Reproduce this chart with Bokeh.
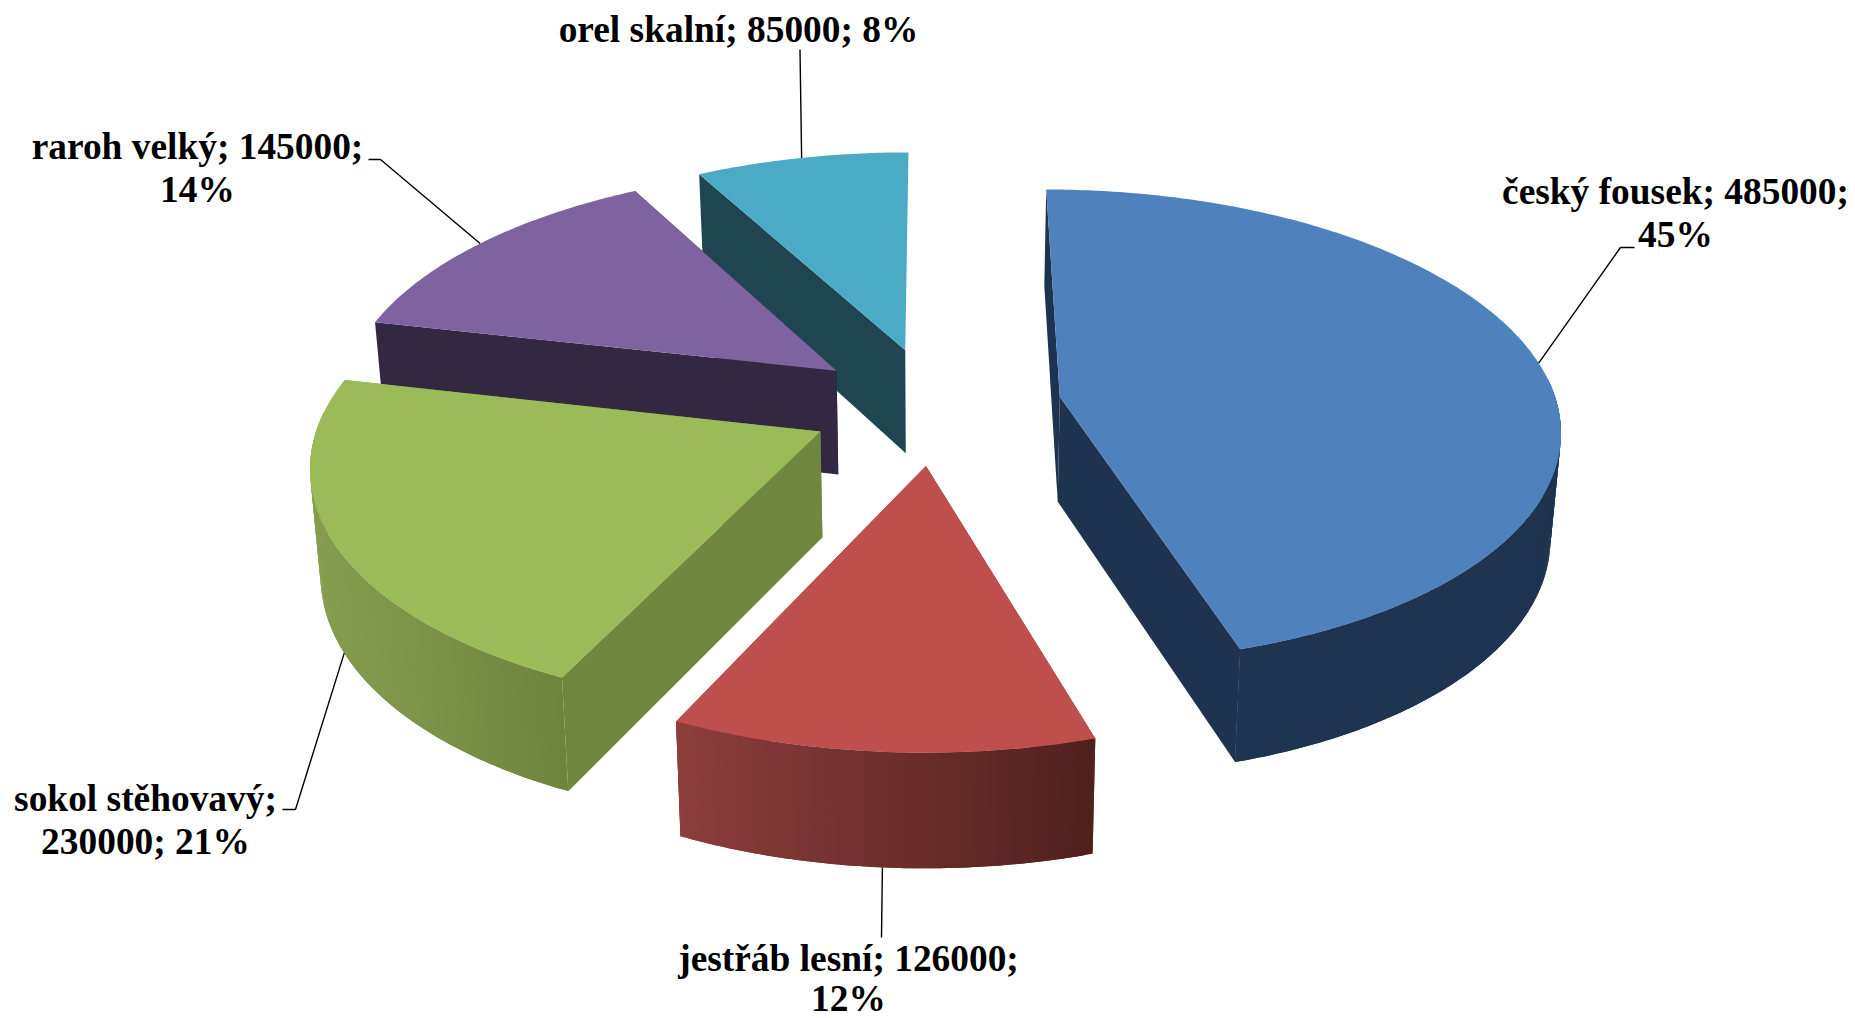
import math
from bokeh.plotting import figure
from bokeh.models import Range1d, ColumnDataSource
from bokeh.embed import file_html
from bokeh.resources import INLINE

categories = ["český fousek", "jestřáb lesní", "sokol stěhovavý", "raroh velký", "orel skalní"]
values = [485000, 126000, 230000, 145000, 85000]
first_line_parts = [2, 2, 1, 2, 3]

top_colors = ["#4F81BD", "#BE4F4C", "#9BBB59", "#7F62A0", "#4BAAC5"]
wall_colors = ["#1E334F", "#7A2E2C", "#71863F", "#332842", "#1E4550"]
outer_left = [(30, 52, 80), (140, 62, 60), (134, 157, 80), (51, 40, 66), (30, 69, 80)]
outer_right = [(30, 52, 80), (80, 32, 30), (111, 133, 62), (51, 40, 66), (30, 69, 80)]

# anchors of the labels: centre x, first line y, gap to the second line; elbow of the leader
label_pos = [(1675, 191), (848, 958), (145, 798), (197, 146), (738, 29)]
line_gaps = [43, 40, 43, 43, 43]
leader_elbows = [[(1634, 247), (1620, 247)], [(881, 937)], [(282, 809), (295, 809)], [(368, 159), (380, 159)], [(799.5, 49)]]
leader_on_bottom = [False, True, True, False, False]

CX, CY = 935.0, 405.0
RX, RY = 497.5, 235.0
PERSP = 0.1236
EXPLODE_X, EXPLODE_Y = 0.2538, 0.25
FONT_PX = 37.4
W, H = 1855, 1018

total = sum(values)
angles = [0.0]
for v in values:
    angles.append(angles[-1] + 360.0 * v / total)


def project(theta, r, mid):
    t, m = math.radians(theta), math.radians(mid)
    X = EXPLODE_X * math.sin(m) + r * math.sin(t)
    Y = EXPLODE_Y * math.cos(m) + r * math.cos(t)
    d = 1 + PERSP * Y
    return CX + RX * X / d, CY - RY * Y / d, Y


def bottom(pt):
    x, y, Y = pt
    return x + (CX - x) * 0.017, y + 105 - 8.5 * Y


def hexcol(c):
    return "#%02X%02X%02X" % tuple(int(round(v)) for v in c)


xs, ys, cols = [], [], []


def add(poly, col):
    xs.append([a for a, _ in poly])
    ys.append([b for _, b in poly])
    cols.append(col)


for i in [4, 3, 0, 2, 1]:
    a0, a1 = angles[i], angles[i + 1]
    mid = (a0 + a1) / 2
    apex = project(mid, 0, mid)
    apex_b = bottom(apex)
    # radial walls (the wall closing the circle at 360 degrees faces away)
    for a in (a0, a1):
        if abs(a - 360) < 1e-6:
            continue
        q = project(a, 1, mid)
        add([apex[:2], q[:2], bottom(q), apex_b], wall_colors[i])
    # outer wall strips, each overlapping the next so no seams appear
    steps = max(2, int((a1 - a0) * 1.5))
    th = [a0 + (a1 - a0) * k / steps for k in range(steps + 1)]
    rim = [project(t, 1, mid) for t in th]
    xmin = min(r[0] for r in rim)
    xmax = max(r[0] for r in rim)
    visible = [k for k in range(steps) if math.cos(math.radians((th[k] + th[k + 1]) / 2)) <= 0.08]
    for k in visible:
        p0, p1 = rim[k], rim[k + 1]
        f = ((p0[0] + p1[0]) / 2 - xmin) / max(1, xmax - xmin)
        c = [outer_left[i][n] + (outer_right[i][n] - outer_left[i][n]) * f for n in range(3)]
        if k + 2 <= steps and k + 1 in visible:
            seg = [rim[k], rim[k + 1], rim[k + 2]]
        else:
            seg = [rim[k], rim[k + 1]]
        add([s[:2] for s in seg] + [bottom(s) for s in seg[::-1]], hexcol(c))
    # top face
    add([apex[:2]] + [r[:2] for r in rim], top_colors[i])

p = figure(width=W, height=H, x_range=Range1d(0, W), y_range=Range1d(H, 0),
           output_backend="svg", toolbar_location=None, min_border=0)
p.axis.visible = False
p.grid.visible = False
p.outline_line_color = None
p.background_fill_color = "white"

src = ColumnDataSource(dict(xs=xs, ys=ys, c=cols))
p.patches("xs", "ys", source=src, fill_color="c", line_color=None)

# leaders
for i in range(len(values)):
    mid = (angles[i] + angles[i + 1]) / 2
    a = project(mid, 1, mid)
    end = bottom(a) if leader_on_bottom[i] else a[:2]
    pts = leader_elbows[i] + [end]
    p.line([q[0] for q in pts], [q[1] for q in pts], line_color="black", line_width=1.4)

# labels
tx, ty, tt = [], [], []
for i, cat in enumerate(categories):
    pct = round(100 * values[i] / total)
    parts = [f"{cat};", f"{values[i]};", f"{pct}%"]
    n = first_line_parts[i]
    lines = [" ".join(parts[:n])]
    if n < 3:
        lines.append(" ".join(parts[n:]))
    for j, line in enumerate(lines):
        tx.append(label_pos[i][0])
        ty.append(label_pos[i][1] + j * line_gaps[i])
        tt.append(line)
p.text(tx, ty, text=tt, text_font={"value": "Liberation Serif"}, text_font_style="bold",
       text_font_size=f"{FONT_PX}px", text_align="center", text_baseline="alphabetic", text_color="black")

open("out.html", "w").write(file_html(p, INLINE))
